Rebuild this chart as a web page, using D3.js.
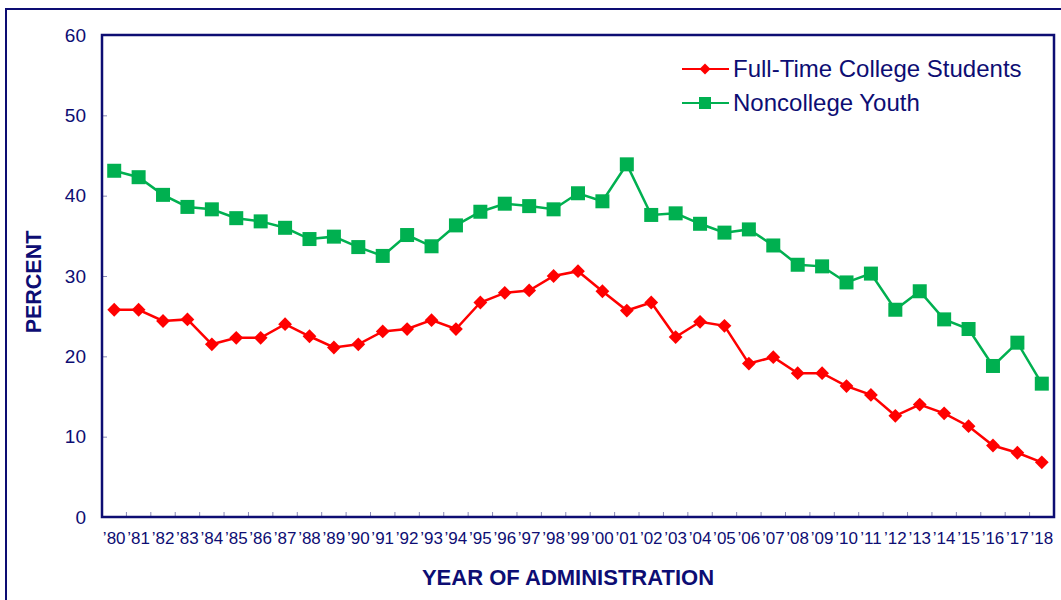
<!DOCTYPE html>
<html>
<head>
<meta charset="utf-8">
<script src="https://cdn.jsdelivr.net/npm/d3@7"></script>
<style>
  html, body { margin: 0; padding: 0; background: #fff; }
  svg { display: block; font-family: Arial, "Liberation Sans", sans-serif; }
</style>
</head>
<body>
<svg id="chart" width="1061" height="600"></svg>
<script>
const years = ["80","81","82","83","84","85","86","87","88","89","90","91","92","93","94","95","96","97","98","99","00","01","02","03","04","05","06","07","08","09","10","11","12","13","14","15","16","17","18"];
const collegeValues = [25.8,25.8,24.4,24.6,21.5,22.3,22.3,24.0,22.5,21.1,21.5,23.1,23.4,24.5,23.4,26.7,27.9,28.2,30.0,30.6,28.1,25.7,26.7,22.4,24.3,23.8,19.1,19.9,17.9,17.9,16.3,15.2,12.6,14.0,12.9,11.3,8.9,8.0,6.8];
const noncollegeValues = [43.1,42.3,40.1,38.6,38.3,37.2,36.8,36.0,34.6,34.9,33.6,32.5,35.1,33.7,36.3,38.0,39.0,38.7,38.3,40.3,39.3,43.9,37.6,37.8,36.5,35.4,35.8,33.8,31.4,31.2,29.2,30.3,25.8,28.1,24.6,23.4,18.8,21.7,16.6];
const yTicks = [0,10,20,30,40,50,60];
const seriesNames = ["Full-Time College Students","Noncollege Youth"];

const navy = "#0d0d73";
const red = "#ff0000";
const green = "#00b050";

const svg = d3.select("#chart");
const m = {left: 102, top: 35, right: 1054, bottom: 517};

// outer border
svg.append("rect").attr("x", 6).attr("y", 9).attr("width", 1070).attr("height", 620)
  .attr("fill", "none").attr("stroke", navy).attr("stroke-width", 2);

const x = d3.scaleBand().domain(years).range([m.left, m.right]);
const y = d3.scaleLinear().domain([0, 60]).range([m.bottom, m.top]);

// y axis ticks (inward)
const yAxis = d3.axisRight(y).tickValues(yTicks).tickSize(5).tickFormat("");
const gy = svg.append("g").attr("transform", `translate(${m.left},0)`).call(yAxis);
gy.select(".domain").remove();
gy.selectAll("line").attr("stroke", "#8a8ab8").attr("stroke-width", 1);

svg.append("g").selectAll("text").data(yTicks).join("text")
  .attr("x", 86).attr("y", d => y(d)).attr("dy", "0.35em")
  .attr("text-anchor", "end").attr("font-size", 19).attr("fill", navy)
  .text(d => d);

// x axis ticks (inward, between categories)
const xTickPos = years.slice(1).map(d => x(d));
svg.append("g").selectAll("line").data(xTickPos).join("line")
  .attr("x1", d => d).attr("x2", d => d)
  .attr("y1", m.bottom).attr("y2", m.bottom - 5)
  .attr("stroke", "#8a8ab8").attr("stroke-width", 1);

svg.append("g").selectAll("text").data(years).join("text")
  .attr("x", d => x(d) + x.bandwidth() / 2).attr("y", 538).attr("dy", "0.35em")
  .attr("text-anchor", "middle").attr("font-size", 17).attr("fill", navy)
  .text(d => "\u2019" + d);

// plot frame
svg.append("rect").attr("x", m.left).attr("y", m.top)
  .attr("width", m.right - m.left).attr("height", m.bottom - m.top)
  .attr("fill", "none").attr("stroke", navy).attr("stroke-width", 2.5);

// axis titles
svg.append("text").attr("transform", "translate(41,282) rotate(-90)")
  .attr("text-anchor", "middle").attr("font-size", 21.5).attr("font-weight", "bold")
  .attr("fill", navy).text("PERCENT");
svg.append("text").attr("x", 568).attr("y", 585)
  .attr("text-anchor", "middle").attr("font-size", 22).attr("font-weight", "bold")
  .attr("fill", navy).text("YEAR OF ADMINISTRATION");

const cx = d => x(d) + x.bandwidth() / 2;
const line = d3.line().x(d => cx(d.year)).y(d => y(d.v));

const college = years.map((yr, i) => ({year: yr, v: collegeValues[i]}));
const noncollege = years.map((yr, i) => ({year: yr, v: noncollegeValues[i]}));

// green series
svg.append("path").datum(noncollege).attr("d", line)
  .attr("fill", "none").attr("stroke", green).attr("stroke-width", 2.5);
svg.append("g").selectAll("rect").data(noncollege).join("rect")
  .attr("x", d => cx(d.year) - 7).attr("y", d => y(d.v) - 7)
  .attr("width", 14).attr("height", 14).attr("fill", green);

// red series
svg.append("path").datum(college).attr("d", line)
  .attr("fill", "none").attr("stroke", red).attr("stroke-width", 2.5);
svg.append("g").selectAll("path").data(college).join("path")
  .attr("d", d3.symbol().type(d3.symbolSquare).size(95))
  .attr("transform", d => `translate(${cx(d.year)},${y(d.v)}) rotate(45)`)
  .attr("fill", red);

// legend
const legend = svg.append("g");
const legItems = [
  {name: seriesNames[0], color: red, y: 69, shape: "diamond"},
  {name: seriesNames[1], color: green, y: 103, shape: "square"}
];
legItems.forEach(it => {
  legend.append("line").attr("x1", 682).attr("x2", 729).attr("y1", it.y).attr("y2", it.y)
    .attr("stroke", it.color).attr("stroke-width", 2);
  if (it.shape === "diamond") {
    legend.append("path").attr("d", d3.symbol().type(d3.symbolSquare).size(60))
      .attr("transform", `translate(705,${it.y}) rotate(45)`).attr("fill", it.color);
  } else {
    legend.append("rect").attr("x", 699).attr("y", it.y - 6).attr("width", 12).attr("height", 12)
      .attr("fill", it.color);
  }
  legend.append("text").attr("x", 733).attr("y", it.y).attr("dy", "0.35em")
    .attr("font-size", 24).attr("fill", navy).text(it.name);
});
</script>
</body>
</html>
